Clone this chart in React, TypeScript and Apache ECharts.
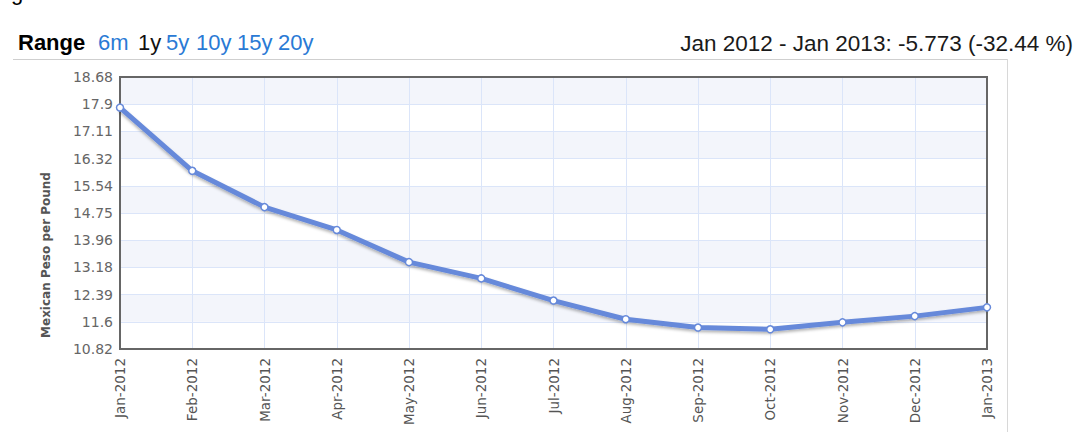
import React, { useEffect, useRef } from "react";
import * as echarts from "echarts";

const categories = [
  "Jan-2012", "Feb-2012", "Mar-2012", "Apr-2012", "May-2012", "Jun-2012", "Jul-2012",
  "Aug-2012", "Sep-2012", "Oct-2012", "Nov-2012", "Dec-2012", "Jan-2013",
];
const values = [17.796, 15.97, 14.92, 14.26, 13.33, 12.86, 12.22, 11.68, 11.44, 11.39, 11.59, 11.77, 12.023];
const yTickLabels = ["10.82", "11.6", "12.39", "13.18", "13.96", "14.75", "15.54", "16.32", "17.11", "17.9", "18.68"];
const yMin = 10.82;
const yMax = 18.68;
const yStep = 0.786;
const rangeLinks = [
  { text: "6m", x: 98, active: false },
  { text: "1y", x: 138, active: true },
  { text: "5y", x: 166, active: false },
  { text: "10y", x: 196, active: false },
  { text: "15y", x: 237, active: false },
  { text: "20y", x: 278, active: false },
];
const summaryText = "Jan 2012 - Jan 2013: -5.773 (-32.44 %)";
const yAxisTitle = "Mexican Peso per Pound";

export default function App() {
  const ref = useRef<HTMLDivElement>(null);
  useEffect(() => {
    if (!ref.current) return;
    const chart = echarts.init(ref.current, null, { renderer: "svg" });
    const sans = "'Liberation Sans', Arial, sans-serif";
    const verd = "'DejaVu Sans', Verdana, sans-serif";
    const graphics: any[] = [
      { type: "line", shape: { x1: 13, y1: 59.5, x2: 1007, y2: 59.5 }, style: { stroke: "#cfcfcf", lineWidth: 1 }, silent: true },
      { type: "line", shape: { x1: 1007.5, y1: 59, x2: 1007.5, y2: 432 }, style: { stroke: "#d8d8d8", lineWidth: 1 }, silent: true },
      { type: "rect", shape: { x: 120, y: 77, width: 867, height: 272 }, style: { fill: "none", stroke: "#666", lineWidth: 2 }, z: 2, silent: true },
      { type: "text", x: 11, y: 3, style: { text: "g", font: `22px ${sans}`, fill: "#000", textVerticalAlign: "bottom" } },
      { type: "text", x: 18, y: 42, style: { text: "Range", font: `bold 22px ${sans}`, fill: "#000", textVerticalAlign: "middle" } },
      ...rangeLinks.map((l) => ({
        type: "text", x: l.x, y: 42,
        style: { text: l.text, font: `22px ${sans}`, fill: l.active ? "#111" : "#2a7ad5", textVerticalAlign: "middle" },
      })),
      { type: "text", x: 1073, y: 43, style: { text: summaryText, font: `22.5px ${sans}`, fill: "#1a1a1a", textAlign: "right", textVerticalAlign: "middle" } },
      { type: "text", x: 46, y: 255, rotation: Math.PI / 2,
        style: { text: yAxisTitle, font: `bold 12px ${verd}`, fill: "#555", textAlign: "center", textVerticalAlign: "middle" } },
    ];
    chart.setOption({
      animation: false,
      grid: { left: 120, right: 97, top: 77, bottom: 83 },
      xAxis: {
        type: "category",
        data: categories,
        boundaryGap: false,
        axisLine: { show: false },
        axisTick: { show: false },
        axisLabel: { rotate: 90, margin: 9, color: "#555", fontFamily: "'DejaVu Sans', Verdana, sans-serif", fontSize: 13.5, interval: 0 },
        splitLine: { show: true, lineStyle: { color: "#dbe5f9", width: 1 } },
      },
      yAxis: {
        type: "value",
        min: yMin,
        max: yMax,
        interval: yStep,
        axisLine: { show: false },
        axisTick: { show: false },
        axisLabel: {
          margin: 7,
          color: "#666",
          fontFamily: "'DejaVu Sans', Verdana, sans-serif",
          fontSize: 14,
          formatter: (v: number) => yTickLabels[Math.round((v - yMin) / yStep)] ?? "",
        },
        splitLine: { show: true, lineStyle: { color: "#dbe5f9", width: 1 } },
        splitArea: { show: true, areaStyle: { color: ["#ffffff", "#f3f5fb"] } },
      },
      graphic: graphics,
      series: [
        {
          type: "line",
          data: values,
          symbol: "circle",
          symbolSize: 7,
          showAllSymbol: true,
          lineStyle: { color: "#6689da", width: 5, shadowColor: "rgba(0,0,0,0.3)", shadowBlur: 3, shadowOffsetY: 2 },
          itemStyle: { color: "#ffffff", borderColor: "#6689da", borderWidth: 1.5 },
          z: 3,
        },
      ],
    });
    return () => chart.dispose();
  }, []);
  return <div ref={ref} style={{ position: "fixed", left: 0, top: 0, width: 1084, height: 432, background: "#fff" }} />;
}
